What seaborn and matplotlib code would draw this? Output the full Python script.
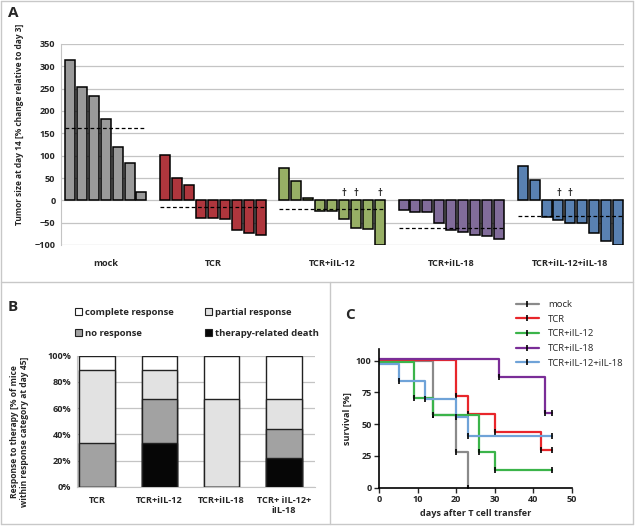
import numpy as np
import pandas as pd
import matplotlib
matplotlib.use('Agg')
import matplotlib.pyplot as plt
from matplotlib.lines import Line2D
from matplotlib.patches import Patch
import seaborn as sns

sns.set_style("white")
plt.rcParams['font.family'] = ['Open Sans', 'DejaVu Sans']

# ---- panel A: waterfall, tumor size change at day 14 ----
a_groups = ["mock", "TCR", "TCR+iIL-12", "TCR+iIL-18", "TCR+iIL-12+iIL-18"]
a_colors = ["#9a9a9a", "#c3222b", "#9bbb59", "#8064a2", "#4a7fc1"]
mock_vals = [314, 254, 234, 183, 120, 84, 19]
tcr_vals = [101, 49, 34, -39, -39, -41, -66, -74, -78]
il12_vals = [72, 43, 6, -25, -25, -42, -63, -65, -100]
il18_vals = [-22, -27, -27, -50, -66, -72, -77, -80, -87]
combo_vals = [77, 45, -37, -44, -50, -50, -74, -90, -100]
a_means = [162, -14, -20, -61, -35]
# bars of mice with therapy-related death (index within group)
a_deaths = [[], [], [5, 6, 8], [], [3, 4]]

# ---- panel B: response categories at day 45 ----
b_groups = ["TCR", "TCR+iIL-12", "TCR+iIL-18", "TCR+ iIL-12+\niIL-18"]
b_death = [0, 33.3, 0, 22.2]
b_none = [33.3, 33.3, 0, 22.2]
b_partial = [55.6, 22.2, 66.7, 22.2]
b_complete = [11.1, 11.1, 33.3, 33.3]

# ---- panel C: survival ----
c_labels = ["mock", "TCR", "TCR+iIL-12", "TCR+iIL-18", "TCR+iIL-12+iIL-18"]
c_colors = ["#8a8a8a", "#e8262b", "#3bb44a", "#7a2d97", "#6fa3d8"]
c_days = [
    [0, 14, 20, 23],
    [0, 20, 23, 30, 42, 45],
    [0, 9, 14, 26, 30, 45],
    [0, 31, 43, 45],
    [0, 5, 12, 20, 23, 45],
]
c_surv = [
    [100, 57, 28.5, 0],
    [100.8, 72, 58, 43.5, 29.5, 29.5],
    [99, 71, 57, 28, 14, 14],
    [101.6, 87.5, 59, 59],
    [97.5, 84, 70, 56, 41, 41],
]

W, H = 635, 528
fig = plt.figure(figsize=(W / 100, H / 100), dpi=100)


def fbox(x0, y0, x1, y1):
    # pixel box (top-left origin) -> figure fraction rect
    return [x0 / W, 1 - y1 / H, (x1 - x0) / W, (y1 - y0) / H]


grid_c = "#c4c4c4"
fs = 6.6

# ================= A =================
axA = fig.add_axes(fbox(61, 44, 624, 245))
all_vals = [mock_vals, tcr_vals, il12_vals, il18_vals, combo_vals]
rows = []
starts = []
slot = 0
for g, vals in zip(a_groups, all_vals):
    starts.append(slot)
    for i, v in enumerate(vals):
        rows.append({"pos": slot + i, "value": v, "group": g})
    slot += len(vals) + 1
dfA = pd.DataFrame(rows)

sns.barplot(data=dfA, x="pos", y="value", hue="group", hue_order=a_groups,
            palette=a_colors, native_scale=True, dodge=False, width=0.84,
            edgecolor="black", linewidth=1.1, errorbar=None, legend=False,
            ax=axA, zorder=3)

for s, vals, m, dead in zip(starts, all_vals, a_means, a_deaths):
    axA.plot([s - 0.42, s + len(vals) - 1 + 0.42], [m, m], color="black",
             lw=0.9, ls=(0, (3, 2)), zorder=4)
    for d in dead:
        axA.text(s + d, 4, "\u2020", ha="center", va="bottom", fontsize=7,
                 fontweight="bold", zorder=5)

axA.set_xlim(-0.75, slot - 1.5)
axA.set_ylim(-100, 350)
axA.set_yticks(np.arange(-100, 351, 50))
axA.yaxis.grid(True, color=grid_c, lw=0.9)
axA.set_axisbelow(True)
axA.set_xticks([s + (len(v) - 1) / 2 for s, v in zip(starts, all_vals)])
axA.set_xticklabels(a_groups, fontweight="bold", fontsize=fs)
axA.tick_params(axis="x", length=0, pad=10)
axA.tick_params(axis="y", length=0, pad=4, labelsize=fs)
for t in axA.get_yticklabels():
    t.set_fontweight("bold")
for sp in ["top", "right", "bottom"]:
    axA.spines[sp].set_visible(False)
axA.spines["left"].set_color(grid_c)
axA.set_xlabel("")
axA.set_ylabel("Tumor size at day 14 [% change relative to day 3]",
               fontsize=6.0, fontweight="bold")
axA.yaxis.set_label_coords(-0.066, 0.6)

# ================= B =================
axB = fig.add_axes(fbox(76.7, 355.7, 315, 486.7))
dfB = pd.DataFrame({"group": b_groups, "death": b_death, "none": b_none,
                    "partial": b_partial, "complete": b_complete})
dfB["lvl1"] = dfB["death"]
dfB["lvl2"] = dfB["lvl1"] + dfB["none"]
dfB["lvl3"] = dfB["lvl2"] + dfB["partial"]
dfB["lvl4"] = dfB["lvl3"] + dfB["complete"]
for col, c in [("lvl4", "white"), ("lvl3", "#e2e2e2"), ("lvl2", "#a2a2a2"),
               ("lvl1", "#060606")]:
    sns.barplot(data=dfB, x="group", y=col, color=c, width=0.57,
                edgecolor="#222222", linewidth=1.0, errorbar=None, ax=axB,
                zorder=3)
axB.set_xlim(-0.33, 3.5)
axB.set_ylim(0, 100)
axB.set_yticks(np.arange(0, 101, 20))
axB.set_yticklabels([f"{v}%" for v in range(0, 101, 20)], fontweight="bold",
                    fontsize=fs)
axB.yaxis.grid(True, color=grid_c, lw=0.9)
axB.set_axisbelow(True)
axB.set_xticks(range(len(b_groups)))
axB.set_xticklabels(b_groups, fontweight="bold", fontsize=fs, linespacing=1.1,
                    va="top")
axB.tick_params(axis="x", length=0, pad=7)
axB.tick_params(axis="y", length=0, pad=4)
for sp in ["top", "right"]:
    axB.spines[sp].set_visible(False)
axB.spines["left"].set_color(grid_c)
axB.spines["bottom"].set_color(grid_c)
axB.set_xlabel("")
axB.set_ylabel("Response to therapy [% of mice\nwithin response category at day 45]",
               fontsize=6.1, fontweight="bold", linespacing=1.1)
axB.yaxis.set_label_coords(-0.2, 0.42)

b_handles = [
    Patch(facecolor="white", edgecolor="#222222", lw=0.8, label="complete response"),
    Patch(facecolor="#a2a2a2", edgecolor="#222222", lw=0.8, label="no response"),
    Patch(facecolor="#e2e2e2", edgecolor="#222222", lw=0.8, label="partial response"),
    Patch(facecolor="#060606", edgecolor="#222222", lw=0.8, label="therapy-related death"),
]
fig.legend(handles=b_handles, ncol=2, loc="upper left",
           bbox_to_anchor=(75 / W, 1 - 308 / H), frameon=False,
           prop={"weight": "bold", "size": 6.8}, handlelength=0.75,
           handleheight=0.75, handletextpad=0.3, columnspacing=3.3,
           labelspacing=1.25, borderpad=0, borderaxespad=0)

# ================= C =================
axC = fig.add_axes(fbox(379.3, 349.3, 571.7, 487.7))
for lab, col, xs, ys in zip(c_labels, c_colors, c_days, c_surv):
    sns.lineplot(x=xs, y=ys, color=col, lw=1.6, drawstyle="steps-post",
                 marker="|", markersize=4, markeredgewidth=1.2,
                 markeredgecolor="black", markevery=list(range(1, len(xs))),
                 label=lab, ax=axC, sort=False)
axC.set_xlim(0, 50)
axC.set_ylim(0, 109)
axC.set_xticks(np.arange(0, 51, 10))
axC.set_yticks([0, 25, 50, 75, 100])
axC.tick_params(direction="out", length=3.5, width=1, pad=2, labelsize=fs,
                bottom=True, left=True)
for t in axC.get_xticklabels() + axC.get_yticklabels():
    t.set_fontweight("bold")
for sp in ["top", "right"]:
    axC.spines[sp].set_visible(False)
for sp in ["left", "bottom"]:
    axC.spines[sp].set_linewidth(1.2)
    axC.spines[sp].set_color("black")
axC.set_xlabel("days after T cell transfer", fontsize=6.6, fontweight="bold",
               labelpad=3)
axC.set_ylabel("survival [%]", fontsize=6.6, fontweight="bold", labelpad=3)
handles, labels = axC.get_legend_handles_labels()
axC.legend(handles, labels, loc="upper left",
           bbox_to_anchor=(516 / W, 1 - 300 / H), bbox_transform=fig.transFigure,
           frameon=False, fontsize=6.8, handlelength=2.4, handletextpad=1.0,
           labelspacing=0.6, borderpad=0, borderaxespad=0, markerscale=1)

# ---- panel letters and frame ----
fig.text(8 / W, 1 - 13 / H, "A", fontsize=11, fontweight="bold", va="center")
fig.text(8 / W, 1 - 307 / H, "B", fontsize=11, fontweight="bold", va="center")
fig.text(345 / W, 1 - 315 / H, "C", fontsize=11, fontweight="bold", va="center")

fc = "#c8c8c8"
frame = [((1, 1), (633, 1)), ((633, 1), (633, 524)), ((633, 524), (1, 524)),
         ((1, 524), (1, 1)), ((1, 282), (633, 282)), ((330, 282), (330, 524))]
for (x0, y0), (x1, y1) in frame:
    fig.add_artist(Line2D([x0 / W, x1 / W], [1 - y0 / H, 1 - y1 / H],
                          color=fc, lw=1.0, transform=fig.transFigure))

fig.savefig("out.png", dpi=100, facecolor="white")
